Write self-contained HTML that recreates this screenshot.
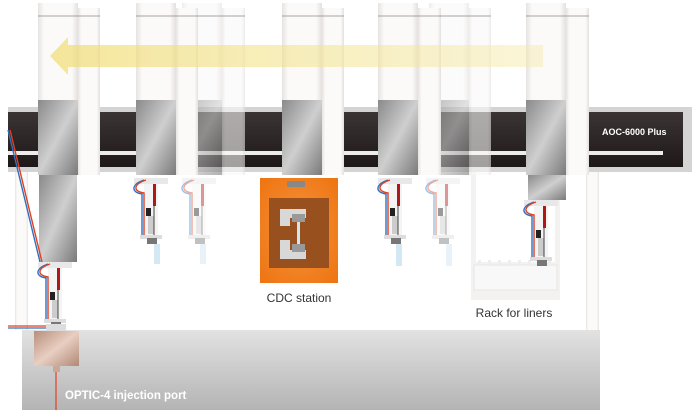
<!DOCTYPE html>
<html><head><meta charset="utf-8"><style>
html,body{margin:0;padding:0;background:#fff;}
body{width:700px;height:410px;overflow:hidden;position:relative;font-family:"Liberation Sans",sans-serif;}
</style></head><body>
<svg width="700" height="410" viewBox="0 0 700 410" xmlns="http://www.w3.org/2000/svg" style="position:absolute;left:0;top:0">
<defs>
<linearGradient id="base" x1="0" y1="0" x2="0" y2="1"><stop offset="0" stop-color="#e2e2e2"/><stop offset="1" stop-color="#b4b4b4"/></linearGradient>
<linearGradient id="rail" x1="0" y1="0" x2="0" y2="1"><stop offset="0" stop-color="#3a3434"/><stop offset="1" stop-color="#1e1818"/></linearGradient>
<linearGradient id="metal" x1="0" y1="0" x2="1" y2="1"><stop offset="0" stop-color="#8a8a8a"/><stop offset="0.5" stop-color="#cfcfcf"/><stop offset="1" stop-color="#7a7a7a"/></linearGradient>
<linearGradient id="col" x1="0" y1="0" x2="1" y2="0"><stop offset="0" stop-color="#e6e2e0"/><stop offset="0.15" stop-color="#fbfaf9"/><stop offset="0.85" stop-color="#fbfaf9"/><stop offset="1" stop-color="#e4e0de"/></linearGradient>
<linearGradient id="arrow" x1="0" y1="0" x2="1" y2="0"><stop offset="0" stop-color="#f0dc70" stop-opacity="0.7"/><stop offset="1" stop-color="#f6eaa8" stop-opacity="0.45"/></linearGradient>
<linearGradient id="port" x1="0" y1="0" x2="1" y2="1"><stop offset="0" stop-color="#b88f7c"/><stop offset="0.5" stop-color="#e8cfc2"/><stop offset="1" stop-color="#b08876"/></linearGradient>
<radialGradient id="orange" cx="0.5" cy="0.5" r="0.7"><stop offset="0" stop-color="#f4933e"/><stop offset="1" stop-color="#ee7410"/></radialGradient>
<g id="syr">
  <rect x="0" y="0" width="34" height="6" fill="#e8e8e8"/>
  <rect x="10" y="6" width="14" height="54" fill="#f4f4f4"/>
  <path d="M10 2 C-2 6,-4 14,8 16 L8 58" stroke="#3070c0" stroke-width="1.4" fill="none"/>
  <path d="M12 2 C0 6,-2 13,10 15 L10 58" stroke="#e04020" stroke-width="1.4" fill="none"/>
  <rect x="19" y="6" width="3" height="22" fill="#b01818"/>
  <rect x="12" y="30" width="5" height="8" fill="#222"/>
  <rect x="14" y="38" width="6" height="18" fill="#ccc"/>
  <line x1="20" y1="28" x2="20" y2="58" stroke="#444" stroke-width="1"/>
  <rect x="6" y="57" width="22" height="4" fill="#ddd"/>
  <rect x="13" y="60" width="10" height="6" fill="#777"/>
</g>
</defs>
<rect x="22" y="330" width="578" height="80" fill="url(#base)"/>
<rect x="15" y="172" width="13" height="158" fill="url(#col)"/>
<rect x="586" y="170" width="13" height="160" fill="url(#col)"/>
<rect x="471" y="172" width="89" height="128" fill="#f4f2f1"/>
<rect x="476" y="172" width="79" height="90" fill="#fff"/>
<rect x="474" y="265" width="83" height="25" fill="#f8f8f8" stroke="#e8e6e4"/>
<g fill="#eee"><rect x="478" y="260" width="3" height="5"/><rect x="488" y="260" width="3" height="5"/><rect x="498" y="260" width="3" height="5"/><rect x="508" y="260" width="3" height="5"/><rect x="518" y="260" width="3" height="5"/><rect x="528" y="260" width="3" height="5"/><rect x="538" y="260" width="3" height="5"/><rect x="548" y="260" width="3" height="5"/></g>
<text x="514" y="317" font-size="12" fill="#333" text-anchor="middle" font-family="Liberation Sans, sans-serif">Rack for liners</text>
<rect x="8" y="107" width="684" height="65" fill="#d4d4d4"/>
<rect x="8" y="112" width="675" height="55" fill="url(#rail)"/>
<rect x="8" y="151" width="655" height="4" fill="#ececec"/>
<text x="602" y="135" font-size="9" font-weight="bold" fill="#fff" font-family="Liberation Sans, sans-serif">AOC-6000 Plus</text>
<g opacity="0.6">
<rect x="182" y="3" width="40" height="97" fill="url(#col)"/><rect x="182" y="100" width="40" height="75" fill="url(#metal)"/>
<rect x="222" y="8" width="23" height="167" fill="url(#col)"/>
<rect x="429" y="3" width="40" height="97" fill="url(#col)"/><rect x="429" y="100" width="40" height="75" fill="url(#metal)"/>
<rect x="469" y="8" width="22" height="167" fill="url(#col)"/>
</g>
<g>
<rect x="38" y="3" width="40" height="97" fill="url(#col)"/><rect x="38" y="100" width="40" height="75" fill="url(#metal)"/>
<rect x="39" y="175" width="38" height="87" fill="url(#metal)"/>
<rect x="78" y="8" width="22" height="167" fill="url(#col)"/>
<rect x="136" y="3" width="40" height="97" fill="url(#col)"/><rect x="136" y="100" width="40" height="75" fill="url(#metal)"/>
<rect x="176" y="8" width="22" height="167" fill="url(#col)"/>
<rect x="282" y="3" width="40" height="97" fill="url(#col)"/><rect x="282" y="100" width="40" height="75" fill="url(#metal)"/>
<rect x="322" y="8" width="22" height="167" fill="url(#col)"/>
<rect x="378" y="3" width="40" height="97" fill="url(#col)"/><rect x="378" y="100" width="40" height="75" fill="url(#metal)"/>
<rect x="418" y="8" width="23" height="167" fill="url(#col)"/>
<rect x="526" y="3" width="40" height="97" fill="url(#col)"/><rect x="526" y="100" width="40" height="75" fill="url(#metal)"/>
<rect x="528" y="175" width="38" height="25" fill="url(#metal)"/>
<rect x="566" y="8" width="23" height="167" fill="url(#col)"/>
</g>
<g stroke="#888" stroke-width="0.8">
<line x1="38" y1="16" x2="100" y2="16"/><line x1="136" y1="16" x2="245" y2="16"/><line x1="282" y1="16" x2="344" y2="16"/><line x1="378" y1="16" x2="491" y2="16"/><line x1="526" y1="16" x2="589" y2="16"/>
</g>
<polygon points="50,56 68,37 68,45 543,45 543,67 68,67 68,75" fill="url(#arrow)"/>
<path d="M8 130 L40 262" stroke="#3070c0" stroke-width="1.4" fill="none"/>
<path d="M10 130 L42 262" stroke="#e04020" stroke-width="1.4" fill="none"/>
<path d="M8 326 L46 326" stroke="#e04020" stroke-width="1.2"/>
<path d="M8 328 L46 328" stroke="#3070c0" stroke-width="1.2"/>
<use href="#syr" x="38" y="262"/>
<use href="#syr" x="134" y="178"/>
<g opacity="0.45"><use href="#syr" x="182" y="178"/></g>
<use href="#syr" x="378" y="178"/>
<g opacity="0.45"><use href="#syr" x="426" y="178"/></g>
<use href="#syr" x="524" y="200"/>
<rect x="154" y="244" width="6" height="20" fill="#d4e8f4"/>
<rect x="200" y="244" width="6" height="20" fill="#e8f2f8"/>
<rect x="396" y="244" width="6" height="22" fill="#d4e8f4"/>
<rect x="446" y="244" width="6" height="22" fill="#e8f2f8"/>
<rect x="46" y="324" width="20" height="9" fill="#ddd"/>
<rect x="34" y="331" width="45" height="35" fill="url(#port)"/>
<rect x="53" y="366" width="7" height="6" fill="#c9a896"/>
<line x1="56" y1="372" x2="56" y2="410" stroke="#e04020" stroke-width="1.2"/>
<text x="65" y="399" font-size="11.5" font-weight="bold" fill="#fff" font-family="Liberation Sans, sans-serif">OPTIC-4 injection port</text>
<rect x="260" y="178" width="78" height="105" fill="url(#orange)"/>
<rect x="269" y="198" width="60" height="70" fill="#98501e"/>
<path d="M280 209 H306 V218 H290 V226 H280 Z" fill="#d8d8d8"/>
<path d="M280 240 H290 V250 H306 V259 H280 Z" fill="#d8d8d8"/>
<rect x="297" y="222" width="3" height="22" fill="#cfe6f4"/>
<rect x="292" y="214" width="13" height="8" fill="#999"/>
<rect x="292" y="244" width="13" height="8" fill="#999"/>
<rect x="287" y="181" width="18" height="6" fill="#888"/>
<text x="299" y="302" font-size="12" fill="#333" text-anchor="middle" font-family="Liberation Sans, sans-serif">CDC station</text>
</svg>
</body></html>
